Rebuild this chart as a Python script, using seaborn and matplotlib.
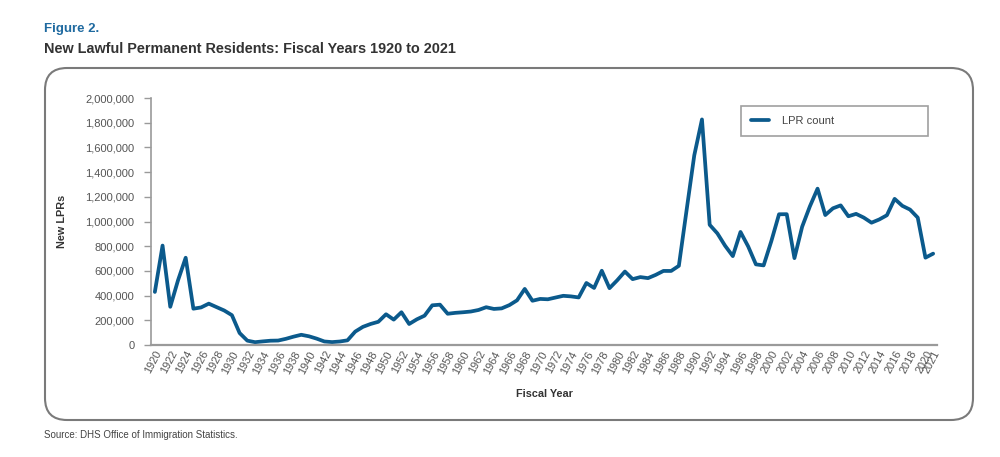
import numpy as np
import pandas as pd
import matplotlib
matplotlib.use("Agg")
import matplotlib.pyplot as plt
from matplotlib.patches import FancyBboxPatch
from matplotlib.transforms import IdentityTransform
import seaborn as sns

years = list(range(1920, 2022))
lpr_count = [
    430001, 805228, 309556, 522919, 706896, 294314, 304488, 335175, 307255, 279678,
    241700, 97139, 35576, 23068, 29470, 34956, 36329, 50244, 67895, 82998,
    70756, 51776, 28781, 23725, 28551, 38119, 108721, 147292, 170570, 188317,
    249187, 205717, 265520, 170434, 208177, 237790, 321625, 326867, 253265, 260686,
    265398, 271344, 283763, 306260, 292248, 296697, 323040, 361972, 454448, 358579,
    373326, 370478, 384685, 398515, 393919, 385378, 502289, 462315, 601442, 460348,
    524295, 595014, 533624, 550052, 541811, 568149, 600027, 599889, 641346, 1090172,
    1535872, 1826595, 973445, 903916, 803993, 720177, 915560, 797847, 653206, 644787,
    841002, 1058902, 1059356, 703542, 957883, 1122257, 1266129, 1052415, 1107126, 1130818,
    1042625, 1062040, 1031631, 990553, 1016518, 1051031, 1183505, 1127167, 1096611, 1031765,
    707362, 740002,
]
tick_years = list(range(1920, 2021, 2)) + [2021]
y_ticks = [0, 200000, 400000, 600000, 800000, 1000000, 1200000, 1400000, 1600000, 1800000, 2000000]

df = pd.DataFrame({"Fiscal Year": years, "New LPRs": lpr_count})

sns.set_theme(style="white")
plt.rcParams["font.family"] = ["Liberation Sans", "DejaVu Sans"]

LINE = "#0b5a8c"
GRAY_TXT = "#555555"
AX_GRAY = "#9a9a9a"

fig = plt.figure(figsize=(10, 4.57), dpi=100)
ax = fig.add_axes([0.151, 0.245, 0.786, 0.5405])

sns.lineplot(data=df, x="Fiscal Year", y="New LPRs", ax=ax, color=LINE,
             linewidth=2.7, label="LPR count")

ax.set_xlim(1919.5, 2021.5)
ax.set_ylim(0, 2000000)
ax.set_yticks(y_ticks)
ax.set_yticklabels([f"{v:,}" for v in y_ticks], fontsize=8, color=GRAY_TXT)
ax.set_xticks(tick_years)
ax.set_xticklabels([str(y) for y in tick_years], rotation=62, fontsize=7.9,
                   color=GRAY_TXT, ha="right", va="top", rotation_mode="anchor")
ax.tick_params(axis="y", which="major", length=5, width=1, color=AX_GRAY, pad=7, left=True)
ax.tick_params(axis="x", which="major", length=0, pad=3)

for s in ["top", "right"]:
    ax.spines[s].set_visible(False)
ax.spines["left"].set_color(AX_GRAY)
ax.spines["bottom"].set_color(AX_GRAY)
ax.spines["left"].set_linewidth(1.2)
ax.spines["bottom"].set_linewidth(1.6)

ax.set_xlabel("Fiscal Year", fontsize=7.8, fontweight="bold", color="#333333", labelpad=10)
ax.set_ylabel("New LPRs", fontsize=7.8, fontweight="bold", color="#333333", labelpad=13)

leg = ax.legend(loc="upper left", bbox_to_anchor=(0.7506, 0.9676 - 0.1255, 0.238, 0.1255),
                mode="expand", frameon=True, fancybox=False,
                fontsize=8, handlelength=1.6, borderpad=0.9, handletextpad=1.2,
                borderaxespad=0)
leg.get_frame().set_edgecolor("#888888")
leg.get_frame().set_linewidth(1.2)
for t in leg.get_texts():
    t.set_color("#444444")

# rounded frame around the chart (pixel coordinates)
box = FancyBboxPatch((45, 37), 928, 352, boxstyle="round,pad=0,rounding_size=22",
                     transform=IdentityTransform(), fill=False, edgecolor="#7a7a7a",
                     linewidth=1.5, figure=fig)
fig.patches.append(box)

fig.text(0.044, 0.93, "Figure 2.", fontsize=9.5, fontweight="bold", color="#1f6aa0",
         ha="left", va="baseline")
fig.text(0.044, 0.885, "New Lawful Permanent Residents: Fiscal Years 1920 to 2021",
         fontsize=10.4, fontweight="bold", color="#333333", ha="left", va="baseline")
fig.text(0.044, 0.042, "Source: DHS Office of Immigration Statistics.", fontsize=7.0,
         color="#444444", ha="left", va="baseline")

fig.savefig("out.png", dpi=100, facecolor="white")
